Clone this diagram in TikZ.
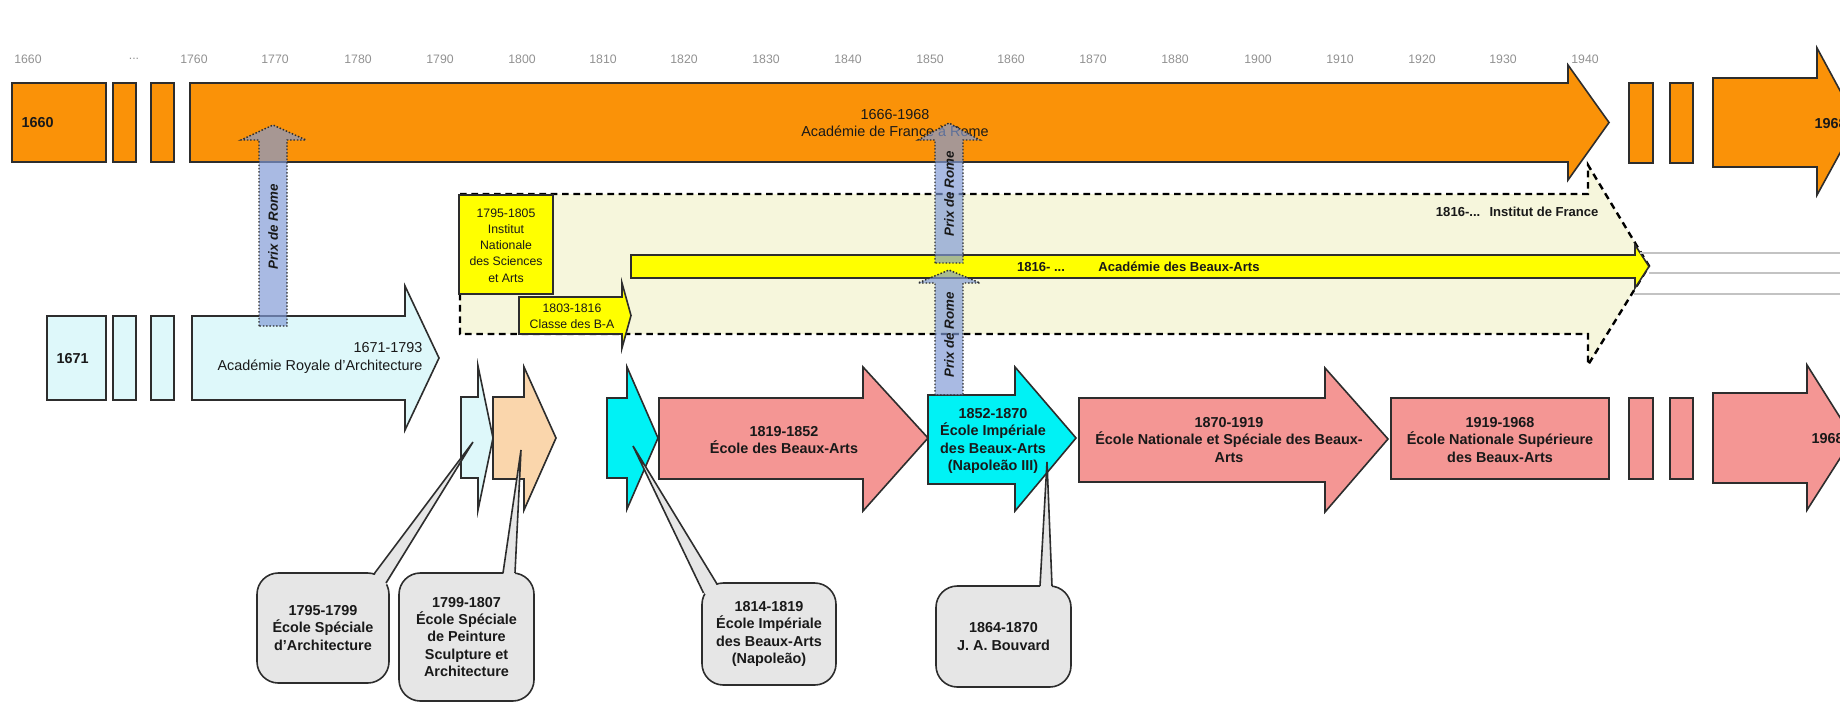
\documentclass[tikz,border=0pt]{standalone}
\usepackage{fontspec}
\setmainfont{Liberation Sans}
\usetikzlibrary{calc}

\definecolor{edgegray}{RGB}{45,45,45}
\definecolor{textdark}{RGB}{25,25,25}
\definecolor{orangeA}{RGB}{250,146,8}
\definecolor{royalcyan}{RGB}{222,248,250}
\definecolor{peachA}{RGB}{250,214,172}
\definecolor{cyanA}{RGB}{0,242,245}
\definecolor{pinkA}{RGB}{244,150,148}
\definecolor{yellowA}{RGB}{255,255,0}
\definecolor{institutfill}{RGB}{246,246,220}
\definecolor{calloutgray}{RGB}{230,230,230}
\definecolor{prixblue}{RGB}{128,154,214}
\definecolor{yeargray}{RGB}{145,145,145}
\definecolor{ghostgray}{RGB}{195,195,195}

\tikzset{every picture/.style={line width=0.75pt},
  shp/.style={draw=edgegray, line width=1.2pt, line join=miter},
  orangeshp/.style={shp, fill=orangeA},
  royalshp/.style={shp, fill=royalcyan},
  peachshp/.style={shp, fill=peachA},
  cyanshp/.style={shp, fill=cyanA},
  pinkshp/.style={shp, fill=pinkA},
  yellowshp/.style={shp, fill=yellowA},
  instshp/.style={draw=black, fill=institutfill, line width=1.8pt, dash pattern=on 5pt off 3.5pt},
  prixshp/.style={draw=edgegray, fill=prixblue, fill opacity=0.68, line width=1.1pt, dash pattern=on 1.1pt off 1.4pt},
  ghostline/.style={draw=ghostgray, line width=0.8pt},
  calloutbox/.style={draw=edgegray, fill=calloutgray, line width=1.2pt, rounded corners=16pt, outer sep=0pt, align=center, inner sep=0pt, text=textdark, font=\fontsize{10.8}{13.1}\selectfont\bfseries},
  calloutfill/.style={fill=calloutgray},
  calloutline/.style={draw=edgegray, line width=1.2pt, line join=miter},
  boldlbl/.style={font=\fontsize{10.8}{13.1}\selectfont\bfseries, text=textdark, align=center, inner sep=0.75pt},
  plainlbl/.style={font=\fontsize{10.8}{13.1}\selectfont, text=textdark, align=center, inner sep=0.75pt},
  smalllbl/.style={font=\fontsize{9.2}{12.2}\selectfont, text=textdark, align=center, inner sep=0.75pt},
  barlbl/.style={font=\fontsize{9.8}{12}\selectfont\bfseries, text=textdark, inner sep=0.75pt},
  yearlbl/.style={font=\fontsize{9.2}{11}\selectfont, text=yeargray, inner sep=0.75pt},
  prixlbl/.style={font=\fontsize{10}{12}\selectfont\bfseries\itshape, text=textdark, rotate=90, inner sep=0.75pt}
}

\begin{document}
\begin{tikzpicture}[x=0.75pt,y=0.75pt,yscale=-1,xscale=1]
\useasboundingbox (0,0) rectangle (1840,704);
\clip (0,0) rectangle (1840,704);

% Text Node
\draw (28,59) node (y1660) [yearlbl] {1660};
\draw (134,59) node (ydots) [yearlbl] {...};
\draw (194,59) node (y1760) [yearlbl] {1760};
\draw (275,59) node (y1770) [yearlbl] {1770};
\draw (358,59) node (y1780) [yearlbl] {1780};
\draw (440,59) node (y1790) [yearlbl] {1790};
\draw (522,59) node (y1800) [yearlbl] {1800};
\draw (603,59) node (y1810) [yearlbl] {1810};
\draw (684,59) node (y1820) [yearlbl] {1820};
\draw (766,59) node (y1830) [yearlbl] {1830};
\draw (848,59) node (y1840) [yearlbl] {1840};
\draw (930,59) node (y1850) [yearlbl] {1850};
\draw (1011,59) node (y1860) [yearlbl] {1860};
\draw (1093,59) node (y1870) [yearlbl] {1870};
\draw (1175,59) node (y1880) [yearlbl] {1880};
\draw (1258,59) node (y1900) [yearlbl] {1900};
\draw (1340,59) node (y1910) [yearlbl] {1910};
\draw (1422,59) node (y1920) [yearlbl] {1920};
\draw (1503,59) node (y1930) [yearlbl] {1930};
\draw (1585,59) node (y1940) [yearlbl] {1940};

%Shape: Rectangle
\draw [orangeshp] (12,83) -- (106,83) -- (106,162) -- (12,162) -- cycle ;
%Shape: Rectangle
\draw [orangeshp] (113,83) -- (136,83) -- (136,162) -- (113,162) -- cycle ;
%Shape: Rectangle
\draw [orangeshp] (151,83) -- (174,83) -- (174,162) -- (151,162) -- cycle ;
%Shape: Right Arrow
\draw [orangeshp] (190,83) -- (1568,83) -- (1568,65) -- (1609,122.5) -- (1568,180) -- (1568,162) -- (190,162) -- cycle ;
%Shape: Rectangle
\draw [orangeshp] (1629,83) -- (1653,83) -- (1653,163) -- (1629,163) -- cycle ;
%Shape: Rectangle
\draw [orangeshp] (1670,83) -- (1693,83) -- (1693,163) -- (1670,163) -- cycle ;
%Shape: Right Arrow
\draw [orangeshp] (1713,78) -- (1817,78) -- (1817,48) -- (1857,122) -- (1817,195) -- (1817,167) -- (1713,167) -- cycle ;

%Shape: Right Arrow
\draw [instshp] (460,194) -- (1588,194) -- (1588,165) -- (1649,266) -- (1588,365) -- (1588,334) -- (460,334) -- cycle ;
%Shape: Rectangle
\draw [yellowshp] (459,195) -- (553,195) -- (553,294) -- (459,294) -- cycle ;
%Shape: Right Arrow
\draw [yellowshp] (519,297) -- (622,297) -- (622,283) -- (631,315.5) -- (622,348) -- (622,334) -- (519,334) -- cycle ;
%Shape: Right Arrow
\draw [yellowshp] (631,255) -- (1635,255) -- (1635,245) -- (1649,266.5) -- (1635,288) -- (1635,278) -- (631,278) -- cycle ;

%Straight Lines
\draw [ghostline] (1640,253) -- (1840,253) ;
\draw [ghostline] (1649,273) -- (1840,273) ;
\draw [ghostline] (1634,294) -- (1840,294) ;

%Shape: Rectangle
\draw [royalshp] (47,316) -- (106,316) -- (106,400) -- (47,400) -- cycle ;
%Shape: Rectangle
\draw [royalshp] (113,316) -- (136,316) -- (136,400) -- (113,400) -- cycle ;
%Shape: Rectangle
\draw [royalshp] (151,316) -- (174,316) -- (174,400) -- (151,400) -- cycle ;
%Shape: Right Arrow
\draw [royalshp] (192,316) -- (405,316) -- (405,286) -- (439,358) -- (405,430) -- (405,400) -- (192,400) -- cycle ;

%Shape: Right Arrow
\draw [royalshp] (461,397) -- (478,397) -- (478,366) -- (493,438) -- (478,510) -- (478,478) -- (461,478) -- cycle ;
%Shape: Right Arrow
\draw [peachshp] (493,397) -- (524,397) -- (524,367) -- (556,438) -- (524,510) -- (524,479) -- (493,479) -- cycle ;
%Shape: Right Arrow
\draw [cyanshp] (607,398) -- (627,398) -- (627,367) -- (658,438) -- (627,509) -- (627,478) -- (607,478) -- cycle ;
%Shape: Right Arrow
\draw [pinkshp] (659,398) -- (863,398) -- (863,367) -- (928,438) -- (863,511) -- (863,479) -- (659,479) -- cycle ;
%Shape: Right Arrow
\draw [cyanshp] (928,395) -- (1015,395) -- (1015,367) -- (1076,438) -- (1015,511) -- (1015,484) -- (928,484) -- cycle ;
%Shape: Right Arrow
\draw [pinkshp] (1079,398) -- (1325,398) -- (1325,368) -- (1388,439) -- (1325,512) -- (1325,482) -- (1079,482) -- cycle ;
%Shape: Rectangle
\draw [pinkshp] (1391,398) -- (1609,398) -- (1609,479) -- (1391,479) -- cycle ;
%Shape: Rectangle
\draw [pinkshp] (1629,398) -- (1653,398) -- (1653,479) -- (1629,479) -- cycle ;
%Shape: Rectangle
\draw [pinkshp] (1670,398) -- (1693,398) -- (1693,479) -- (1670,479) -- cycle ;
%Shape: Right Arrow
\draw [pinkshp] (1713,393) -- (1807,393) -- (1807,365) -- (1853,438) -- (1807,510) -- (1807,483) -- (1713,483) -- cycle ;

% Text Node
\draw (20,123) node (t1660) [boldlbl, anchor=west] {1660};
% Text Node
\draw (895,123) node (tFranceRome) [plainlbl] {1666-1968\\Académie de France à Rome};
% Text Node
\draw (1813,124) node (t1968top) [boldlbl, anchor=west] {1968};
% Text Node
\draw (506,245.5) node (tInstNat) [smalllbl] {1795-1805\\Institut\\Nationale\\des Sciences\\et Arts};
% Text Node
\draw (572,316) node (tClasse) [smalllbl] {1803-1816\\Classe des B-A};
% Text Node
\draw (1041,267) node (tBA1816) [barlbl] {1816- ...};
% Text Node
\draw (1179,267) node (tAcadBA) [barlbl] {Académie des Beaux-Arts};
% Text Node
\draw (1600,212) node (tInstFr) [barlbl, anchor=east] {1816-...\hspace{7pt}Institut de France};
% Text Node
\draw (55,359) node (t1671) [boldlbl, anchor=west] {1671};
% Text Node
\draw (424,358) node (tRoyale) [plainlbl, anchor=east, align=right] {1671-1793\\Académie Royale d'Architecture};
% Text Node
\draw (784,440) node (tEBA) [boldlbl] {1819-1852\\École des Beaux-Arts};
% Text Node
\draw (993,441) node (tEIBA) [boldlbl] {1852-1870\\École Impériale\\des Beaux-Arts\\(Napoleão III)};
% Text Node
\draw (1229,440) node (tENSBA) [boldlbl] {1870-1919\\École Nationale et Spéciale des Beaux-\\Arts};
% Text Node
\draw (1500,440) node (tENSupBA) [boldlbl] {1919-1968\\École Nationale Supérieure\\des Beaux-Arts};
% Text Node
\draw (1810,439) node (t1968bot) [boldlbl, anchor=west] {1968};

%Shape: Up Arrow
\draw [prixshp] (259,326) -- (259,140) -- (241,140) -- (273,125) -- (306,140) -- (287,140) -- (287,326) -- cycle ;
%Shape: Up Arrow
\draw [prixshp] (935,263) -- (935,140) -- (918,140) -- (949,123) -- (980,140) -- (963,140) -- (963,263) -- cycle ;
%Shape: Up Arrow
\draw [prixshp] (935,395) -- (935,283) -- (918,283) -- (949,270) -- (980,283) -- (963,283) -- (963,395) -- cycle ;
% Text Node
\draw (273,227) node (prix1) [prixlbl] {Prix de Rome};
% Text Node
\draw (949,194) node (prix2) [prixlbl] {Prix de Rome};
% Text Node
\draw (949,335) node (prix3) [prixlbl] {Prix de Rome};

%Callouts
\coordinate (pEsa) at (473,442);
\coordinate (pEsp) at (521,450);
\coordinate (pEib) at (633,446);
\coordinate (pBouv) at (1047,462);

\draw (323,628) node (cEsa) [calloutbox, minimum width=99pt, minimum height=82.5pt] {1795-1799\\École Spéciale\\d'Architecture};
\fill [calloutfill] ($(cEsa.north)+(51,3)$) -- (pEsa) -- ($(cEsa.north)+(63,12)$) -- ($(cEsa.north)+(55,14)$) -- cycle ;
\draw [calloutline] ($(cEsa.north)+(51,1)$) -- (pEsa) -- ($(cEsa.north)+(63,10)$) ;

\draw (466.5,637) node (cEsp) [calloutbox, minimum width=101.25pt, minimum height=96pt] {1799-1807\\École Spéciale\\de Peinture\\Sculpture et\\Architecture};
\fill [calloutfill] ($(cEsp.north)+(36.5,3)$) -- (pEsp) -- ($(cEsp.north)+(48.5,3)$) -- cycle ;
\draw [calloutline] ($(cEsp.north)+(36.5,0)$) -- (pEsp) -- ($(cEsp.north)+(48.5,0)$) ;

\draw (769,634) node (cEib) [calloutbox, minimum width=100.5pt, minimum height=76.5pt] {1814-1819\\École Impériale\\des Beaux-Arts\\(Napoleão)};
\fill [calloutfill] ($(cEib.north west)+(3,11)$) -- (pEib) -- ($(cEib.north west)+(15,3)$) -- ($(cEib.north west)+(16,14)$) -- cycle ;
\draw [calloutline] ($(cEib.north west)+(1.5,10)$) -- (pEib) -- ($(cEib.north west)+(15,1)$) ;

\draw (1003.5,636.5) node (cBouv) [calloutbox, minimum width=101.25pt, minimum height=75.75pt] {1864-1870\\J. A. Bouvard};
\fill [calloutfill] ($(cBouv.north)+(36.5,3)$) -- (pBouv) -- ($(cBouv.north)+(48.5,3)$) -- cycle ;
\draw [calloutline] ($(cBouv.north)+(36.5,0)$) -- (pBouv) -- ($(cBouv.north)+(48.5,0)$) ;

\end{tikzpicture}
\end{document}
